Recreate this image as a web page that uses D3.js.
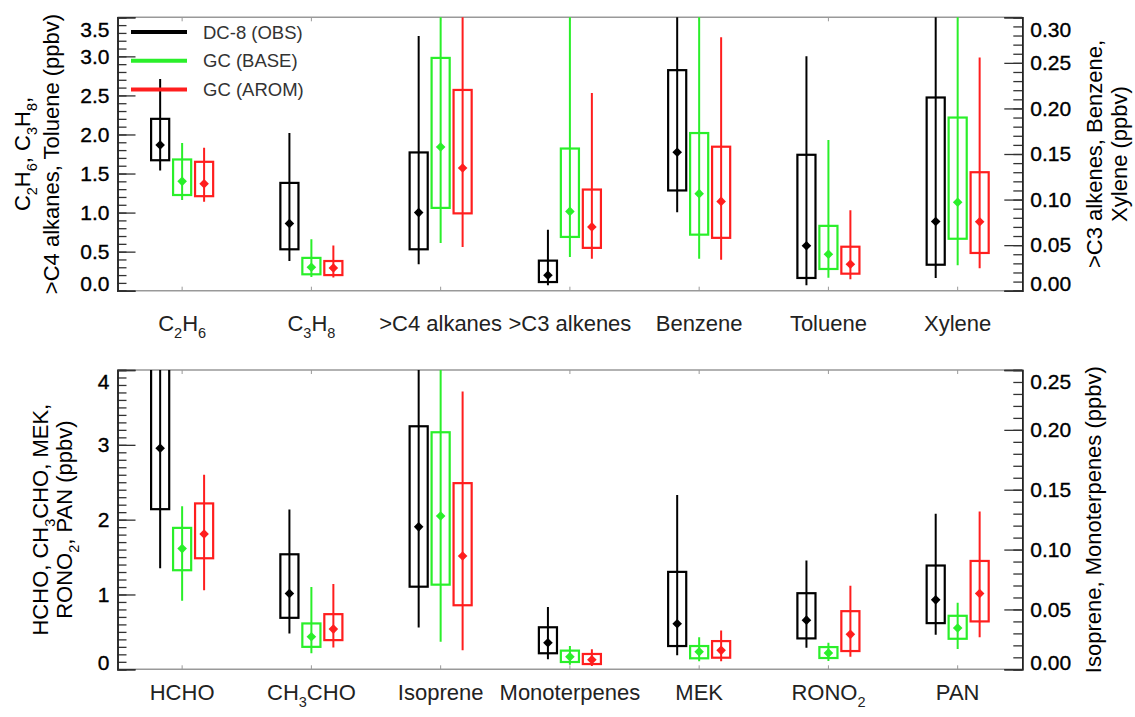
<!DOCTYPE html>
<html>
<head>
<meta charset="utf-8">
<script src="https://cdn.jsdelivr.net/npm/d3@7"></script>
<style>
  body { margin: 0; background: #fff; }
  text { font-family: "Liberation Sans", Arial, sans-serif; }
</style>
</head>
<body>
<svg id="chart" width="1135" height="717"></svg>
<script>
// categories ("_" marks a one-character subscript)
var topCategories = ['C_2H_6', 'C_3H_8', '>C4 alkanes', '>C3 alkenes', 'Benzene', 'Toluene', 'Xylene']
var botCategories = ['HCHO', 'CH_3CHO', 'Isoprene', 'Monoterpenes', 'MEK', 'RONO_2', 'PAN']
// which y axis each category is read against
var topSide = ['L', 'L', 'L', 'R', 'R', 'L', 'R']
var botSide = ['L', 'L', 'R', 'R', 'L', 'L', 'L']

var seriesNames = ['DC-8 (OBS)', 'GC (BASE)', 'GC (AROM)']

// [whisker low, box low, median, box high, whisker high]
var obsTop = [
    [1.54, 1.67, 1.865, 2.20, 2.71],
    [0.38, 0.53, 0.86, 1.38, 2.02],
    [0.34, 0.53, 1.00, 1.77, 3.26],
    [0.006, 0.0095, 0.017, 0.033, 0.067],
    [0.086, 0.110, 0.152, 0.242, 0.36],
    [0.07, 0.163, 0.576, 1.74, 3.00],
    [0.014, 0.0285, 0.076, 0.212, 0.38]
]
var baseTop = [
    [1.16, 1.225, 1.40, 1.68, 1.89],
    [0.175, 0.21, 0.30, 0.42, 0.66],
    [0.61, 1.06, 1.84, 2.98, 4.2],
    [0.037, 0.059, 0.087, 0.156, 0.36],
    [0.035, 0.0615, 0.1065, 0.173, 0.36],
    [0.167, 0.278, 0.466, 0.83, 1.93],
    [0.028, 0.057, 0.097, 0.190, 0.36]
]
var aromTop = [
    [1.14, 1.21, 1.37, 1.65, 1.83],
    [0.17, 0.20, 0.29, 0.38, 0.58],
    [0.56, 0.99, 1.57, 2.57, 4.1],
    [0.035, 0.047, 0.070, 0.111, 0.217],
    [0.034, 0.058, 0.098, 0.158, 0.278],
    [0.146, 0.218, 0.338, 0.563, 1.03],
    [0.0245, 0.0414, 0.0757, 0.130, 0.256]
]
var obsBot = [
    [1.35, 2.14, 2.955, 4.6, 5.8],
    [0.48, 0.688, 1.013, 1.537, 2.137],
    [0.035, 0.069, 0.119, 0.203, 0.30],
    [0.0084, 0.0134, 0.0222, 0.0351, 0.0521],
    [0.187, 0.311, 0.608, 1.302, 2.328],
    [0.288, 0.413, 0.657, 1.017, 1.453],
    [0.461, 0.617, 0.928, 1.387, 2.08]
]
var baseBot = [
    [0.915, 1.324, 1.613, 1.89, 2.18],
    [0.213, 0.30, 0.435, 0.613, 1.10],
    [0.023, 0.0707, 0.128, 0.198, 0.27],
    [0.0039, 0.0061, 0.0105, 0.0156, 0.0195],
    [0.107, 0.147, 0.235, 0.311, 0.43],
    [0.111, 0.151, 0.217, 0.297, 0.355],
    [0.271, 0.408, 0.551, 0.715, 0.888]
]
var aromBot = [
    [1.057, 1.484, 1.808, 2.217, 2.6],
    [0.293, 0.39, 0.537, 0.737, 1.14],
    [0.016, 0.0535, 0.0947, 0.1555, 0.232],
    [0.0028, 0.0044, 0.008, 0.0128, 0.0167],
    [0.107, 0.155, 0.253, 0.377, 0.52],
    [0.168, 0.244, 0.467, 0.777, 1.115],
    [0.427, 0.64, 1.013, 1.448, 2.11]
]

// tick labels
var topLeftTicks = [0.0, 0.5, 1.0, 1.5, 2.0, 2.5, 3.0, 3.5]
var topRightTicks = [0.00, 0.05, 0.10, 0.15, 0.20, 0.25, 0.30]
var botLeftTicks = [0, 1, 2, 3, 4]
var botRightTicks = [0.00, 0.05, 0.10, 0.15, 0.20, 0.25]

var colors = ['#000000', '#2aef2a', '#ff1e1e']

var svg = d3.select('#chart')
var X0 = 117.5, X1 = 1022.3

// writes a label with one-char subscripts after "_"
function richText(sel, str, size) {
    var parts = [], i = 0
    while (i < str.length) {
        if (str[i] === '_') { parts.push({ t: str[i + 1], sub: true }); i += 2 }
        else {
            var j = i
            while (j < str.length && str[j] !== '_') j++
            parts.push({ t: str.slice(i, j), sub: false }); i = j
        }
    }
    var down = false
    parts.forEach(function (p) {
        var ts = sel.append('tspan').text(p.t)
        if (p.sub) { ts.attr('font-size', size * 0.66).attr('dy', down ? 0 : size * 0.32); down = true }
        else if (down) { ts.attr('dy', -size * 0.32); down = false }
    })
}

function drawPanel(cfg) {
    var x = d3.scaleLinear().domain([0.5, cfg.cats.length + 0.5]).range([X0, X1])
    var yL = d3.scaleLinear().domain(cfg.leftDomain).range([cfg.bottom, cfg.top])
    var yR = d3.scaleLinear().domain(cfg.rightDomain).range([cfg.bottom, cfg.top])
    var g = svg.append('g')

    var clipId = 'clip' + cfg.name
    svg.append('clipPath').attr('id', clipId).append('rect')
        .attr('x', X0).attr('y', cfg.top).attr('width', X1 - X0).attr('height', cfg.bottom - cfg.top)

    // top / bottom frame with small category ticks
    g.append('line').attr('x1', X0).attr('x2', X1).attr('y1', cfg.top).attr('y2', cfg.top)
        .attr('stroke', '#999').attr('stroke-width', 1.5)
    g.append('line').attr('x1', X0).attr('x2', X1).attr('y1', cfg.bottom).attr('y2', cfg.bottom)
        .attr('stroke', '#999').attr('stroke-width', 1.5)
    cfg.cats.forEach(function (c, i) {
        g.append('line').attr('x1', x(i + 1)).attr('x2', x(i + 1)).attr('y1', cfg.top).attr('y2', cfg.top + 4)
            .attr('stroke', '#999').attr('stroke-width', 1)
        g.append('line').attr('x1', x(i + 1)).attr('x2', x(i + 1)).attr('y1', cfg.bottom).attr('y2', cfg.bottom - 4)
            .attr('stroke', '#999').attr('stroke-width', 1)
    })

    // y axes: minor then major ticks
    function yAxis(scale, side, majors, step, fmt) {
        var xpos = side === 'L' ? X0 : X1
        var mk = side === 'L' ? d3.axisLeft : d3.axisRight
        var d = scale.domain()
        var minors = d3.range(d[0], d[1] + step / 2, step)
        var ga = g.append('g').attr('transform', 'translate(' + xpos + ',0)')
        ga.call(mk(scale).tickValues(minors).tickSize(-9).tickFormat(''))
        var gm = g.append('g').attr('transform', 'translate(' + xpos + ',0)')
        gm.call(mk(scale).tickValues(majors).tickSize(-18).tickPadding(8).tickFormat(fmt))
        ;[ga, gm].forEach(function (s) {
            s.selectAll('.domain').attr('stroke', '#222').attr('stroke-width', 1.5)
            s.selectAll('.tick line').attr('stroke', '#333').attr('stroke-width', 1.3)
        })
        gm.selectAll('.tick text')
            .attr('font-size', 21).attr('fill', '#000')
            .attr('stroke', '#000').attr('stroke-width', 0.35)
            .attr('font-family', '"Liberation Sans", Arial, sans-serif')
            .attr('y', function (v) {
                var ty = scale(v)
                var cy = Math.max(cfg.top + 12, Math.min(cfg.bottom - 7, ty))
                return cy - ty
            })
    }
    yAxis(yL, 'L', cfg.leftTicks, cfg.leftStep, cfg.leftFmt)
    yAxis(yR, 'R', cfg.rightTicks, cfg.rightStep, cfg.rightFmt)

    // box plots
    var marks = g.append('g').attr('clip-path', 'url(#' + clipId + ')')
    var offsets = [-0.17, 0, 0.17]
    var half = 0.07
    cfg.series.forEach(function (ser, si) {
        ser.forEach(function (q, ci) {
            var y = cfg.side[ci] === 'L' ? yL : yR
            var cx = x(ci + 1 + offsets[si])
            var col = colors[si]
            marks.append('line').attr('x1', cx).attr('x2', cx)
                .attr('y1', y(q[0])).attr('y2', y(q[4]))
                .attr('stroke', col).attr('stroke-width', 2)
            marks.append('rect')
                .attr('x', x(ci + 1 + offsets[si] - half)).attr('y', y(q[3]))
                .attr('width', x(ci + 1 + offsets[si] + half) - x(ci + 1 + offsets[si] - half))
                .attr('height', y(q[1]) - y(q[3]))
                .attr('fill', 'none').attr('stroke', col).attr('stroke-width', 2.2)
            var my = y(q[2])
            marks.append('path')
                .attr('d', 'M' + cx + ',' + (my - 4.8) + 'L' + (cx + 4.8) + ',' + my + 'L' + cx + ',' + (my + 4.8) + 'L' + (cx - 4.8) + ',' + my + 'Z')
                .attr('fill', col)
        })
    })

    // category labels
    cfg.cats.forEach(function (c, i) {
        var t = g.append('text').attr('x', x(i + 1)).attr('y', cfg.bottom + cfg.labelOffset)
            .attr('text-anchor', 'middle').attr('font-size', 22).attr('fill', '#222')
        richText(t, c, 22)
    })

    // axis titles
    var cy = (cfg.top + cfg.bottom) / 2
    cfg.leftTitle.forEach(function (line, i) {
        var t = g.append('text').attr('transform', 'translate(' + cfg.leftTitleX[i] + ',' + cy + ') rotate(-90)')
            .attr('text-anchor', 'middle').attr('font-size', 22).attr('fill', '#000')
        richText(t, line, 22)
    })
    cfg.rightTitle.forEach(function (line, i) {
        var t = g.append('text').attr('transform', 'translate(' + cfg.rightTitleX[i] + ',' + cy + ') rotate(-90)')
            .attr('text-anchor', 'middle').attr('font-size', 22).attr('fill', '#000')
        richText(t, line, 22)
    })
    return { x: x, yL: yL }
}

drawPanel({
    name: 'top', top: 17.3, bottom: 290.7, cats: topCategories, side: topSide,
    series: [obsTop, baseTop, aromTop],
    leftDomain: [0, 3.5], leftTicks: topLeftTicks, leftStep: 0.1, leftFmt: d3.format('.1f'),
    rightDomain: [0, 0.30], rightTicks: topRightTicks, rightStep: 0.01, rightFmt: d3.format('.2f'),
    labelOffset: 40,
    leftTitle: ['C_2H_6, C_3H_8,', '>C4 alkanes, Toluene (ppbv)'], leftTitleX: [30, 59],
    rightTitle: ['>C3 alkenes, Benzene,', 'Xylene (ppbv)'], rightTitleX: [1102, 1127]
})

drawPanel({
    name: 'bot', top: 370, bottom: 669.3, cats: botCategories, side: botSide,
    series: [obsBot, baseBot, aromBot],
    leftDomain: [0, 4], leftTicks: botLeftTicks, leftStep: 0.1, leftFmt: d3.format('d'),
    rightDomain: [0, 0.25], rightTicks: botRightTicks, rightStep: 0.01, rightFmt: d3.format('.2f'),
    labelOffset: 31,
    leftTitle: ['HCHO, CH_3CHO, MEK,', 'RONO_2, PAN (ppbv)'], leftTitleX: [48, 72],
    rightTitle: ['Isoprene, Monoterpenes (ppbv)'], rightTitleX: [1101]
})

// legend
var leg = svg.append('g')
seriesNames.forEach(function (n, i) {
    var ly = 32 + i * 28.7
    leg.append('line').attr('x1', 131).attr('x2', 187).attr('y1', ly).attr('y2', ly)
        .attr('stroke', colors[i]).attr('stroke-width', 4)
    leg.append('text').attr('x', 203).attr('y', ly + 6.5).attr('font-size', 18.5).attr('fill', '#333').text(n)
})
</script>
</body>
</html>
